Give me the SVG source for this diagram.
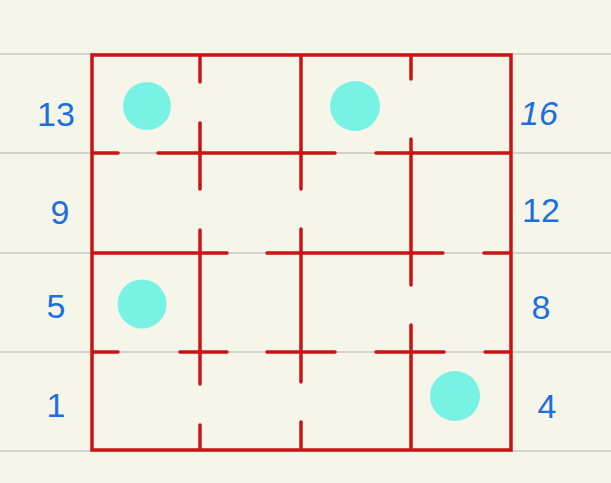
<svg xmlns="http://www.w3.org/2000/svg" width="611" height="483" viewBox="0 0 611 483">
<style>
.rule{stroke:#d2d2d0;stroke-width:2;fill:none}
.wall{stroke:#c81414;stroke-width:3.5;stroke-linecap:round;fill:none}
.box{stroke:#c81414;stroke-width:3.5;fill:none}
.dot{fill:#78f2e4}
.num{font-family:"Liberation Sans",Arial,sans-serif;font-size:34px;fill:#1c6fdc;text-anchor:middle}
</style>
<rect width="611" height="483" fill="#f6f5ea"/>
<g id="rules">
<line class="rule" x1="0" y1="54" x2="611" y2="54"/>
<line class="rule" x1="0" y1="153" x2="611" y2="153"/>
<line class="rule" x1="0" y1="253" x2="611" y2="253"/>
<line class="rule" x1="0" y1="352" x2="611" y2="352"/>
<line class="rule" x1="0" y1="451" x2="611" y2="451"/>
</g>
<g id="maze">
<rect class="box" x="92" y="55" width="419" height="395"/>
<path class="wall" d="M200 57V82M200 123V189M200 230V384M200 425V448
M301 57V189M301 229V382M301 422V448
M411 57V79M411 139V285M411 325V448
M94 153H118M158 153H335M376 153H509
M94 253H227M267 253H443M484 253H509
M94 352H118M180 352H227M267 352H335M376 352H444M485 352H509"/>
</g>
<g id="dots">
<circle class="dot" cx="147" cy="106" r="24"/>
<circle class="dot" cx="355" cy="106" r="25"/>
<circle class="dot" cx="142" cy="304" r="24.5"/>
<circle class="dot" cx="455" cy="396" r="25"/>
</g>
<g id="labels">
<text class="num" x="56" y="126">13</text>
<text class="num" x="60" y="224">9</text>
<text class="num" x="56" y="318">5</text>
<text class="num" x="56" y="417">1</text>
<text class="num" x="539" y="125" font-style="italic">16</text>
<text class="num" x="541" y="222" font-size="28">12</text>
<text class="num" x="541" y="319">8</text>
<text class="num" x="547" y="418">4</text>
</g>
</svg>
